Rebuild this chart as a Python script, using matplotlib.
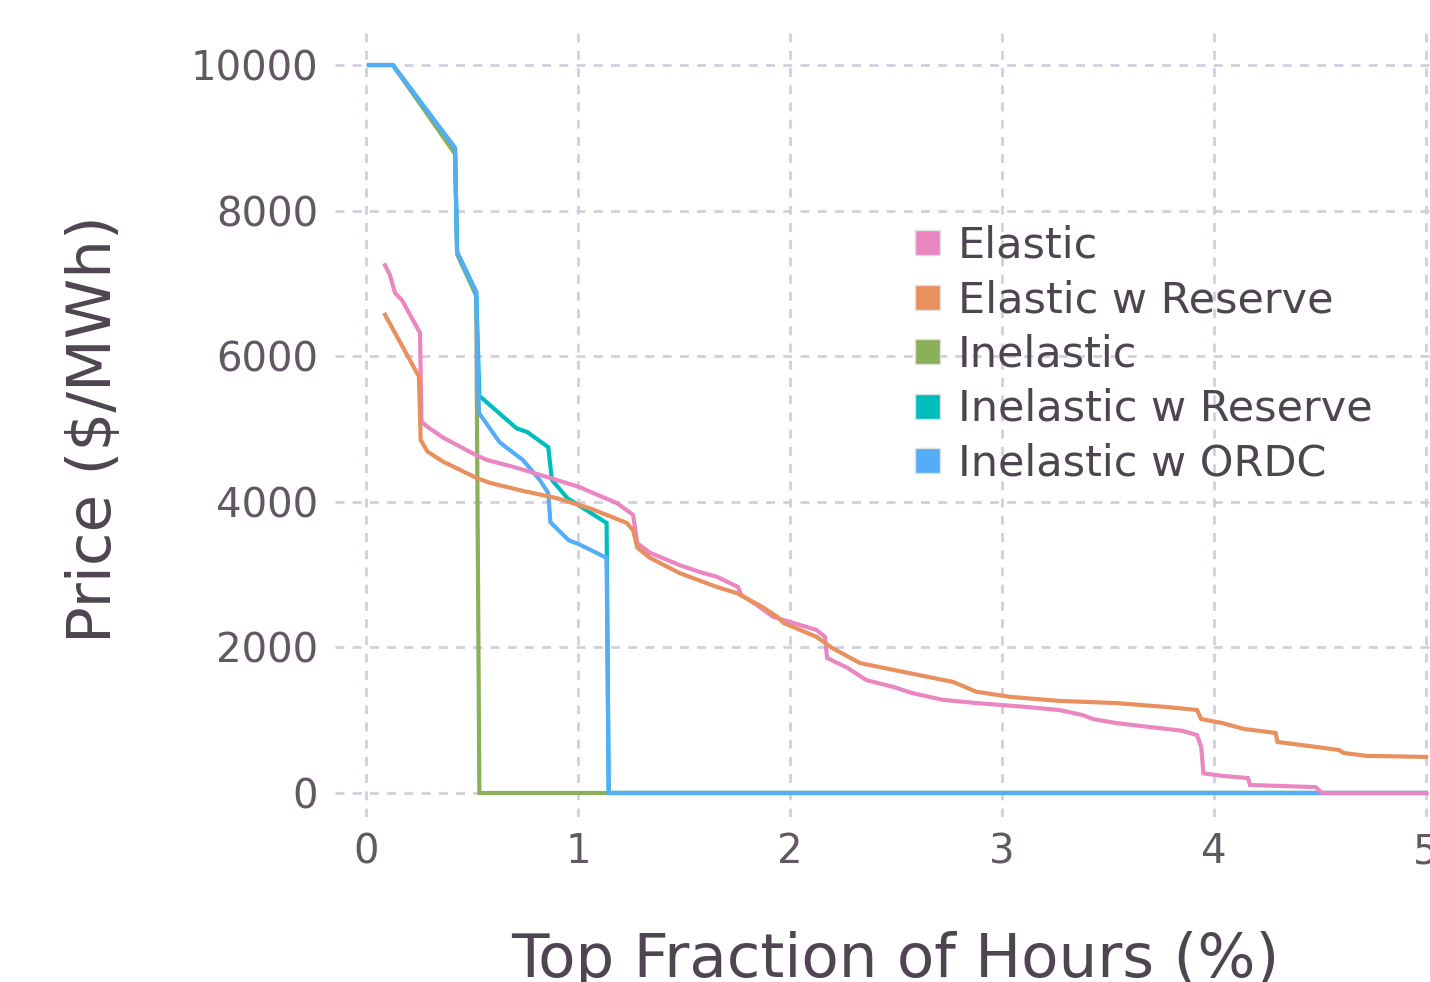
import matplotlib
matplotlib.use("Agg")
import matplotlib.pyplot as plt
from matplotlib.lines import Line2D

# ---------------------------------------------------------
# Price duration curves
# ---------------------------------------------------------
elastic_x = [0.09, 0.113, 0.137, 0.17, 0.255, 0.262, 0.29, 0.365, 0.52, 0.57, 0.695,
             0.855, 1.01, 1.04, 1.185, 1.26, 1.28, 1.34, 1.48, 1.575, 1.655, 1.755,
             1.77, 1.845, 1.92, 2.0, 2.125, 2.165, 2.175, 2.27, 2.36, 2.49, 2.58,
             2.72, 2.88, 3.12, 3.27, 3.38, 3.43, 3.54, 3.70, 3.85, 3.92, 3.94, 3.95,
             4.04, 4.16, 4.17, 4.48, 4.51, 5.0]
elastic_y = [7250, 7115, 6870, 6770, 6320, 5100, 5030, 4880, 4640, 4575, 4480,
             4340, 4200, 4160, 3980, 3820, 3430, 3300, 3130, 3035, 2970, 2830,
             2720, 2580, 2420, 2350, 2240, 2145, 1855, 1720, 1550, 1455, 1370,
             1280, 1235, 1180, 1140, 1070, 1015, 960, 905, 855, 795, 630, 270,
             235, 205, 110, 80, 0, 0]

elastic_res_x = [0.09, 0.25, 0.258, 0.29, 0.365, 0.52, 0.585, 0.74, 0.90, 1.057, 1.23,
                 1.26, 1.28, 1.34, 1.48, 1.655, 1.75, 1.87, 1.94, 1.97, 2.125, 2.2,
                 2.33, 2.49, 2.65, 2.77, 2.88, 3.04, 3.27, 3.54, 3.78, 3.92, 3.94,
                 4.04, 4.14, 4.29, 4.30, 4.41, 4.59, 4.61, 4.72, 5.0]
elastic_res_y = [6570, 5720, 4850, 4690, 4550, 4330, 4260, 4150, 4050, 3910, 3710,
                 3610, 3370, 3230, 3020, 2830, 2745, 2555, 2420, 2335, 2145, 1990,
                 1785, 1690, 1595, 1525, 1390, 1320, 1265, 1235, 1180, 1140, 1015,
                 960, 880, 825, 700, 660, 590, 550, 510, 495]

inelastic_x = [0.014, 0.127, 0.42, 0.43, 0.52, 0.535, 5.0]
inelastic_y = [10000, 10000, 8780, 7400, 6830, 0, 0]

inelastic_res_x = [0.014, 0.127, 0.42, 0.43, 0.52, 0.535, 0.547, 0.71, 0.76, 0.86,
                   0.877, 0.95, 1.135, 1.145, 5.0]
inelastic_res_y = [10000, 10000, 8860, 7430, 6880, 5450, 5425, 5010, 4960, 4750,
                   4300, 4050, 3710, 0, 0]

ordc_x = [0.014, 0.127, 0.42, 0.43, 0.52, 0.533, 0.63, 0.665, 0.74, 0.82, 0.86,
          0.87, 0.955, 1.01, 1.135, 1.145, 5.0]
ordc_y = [10000, 10000, 8860, 7430, 6880, 5220, 4820, 4740, 4575, 4300, 4120,
          3720, 3475, 3410, 3230, 0, 0]

labels = ["Elastic", "Elastic w Reserve", "Inelastic", "Inelastic w Reserve", "Inelastic w ORDC"]
colors = ["#ea87c2", "#e8905e", "#8bb05a", "#00bdbd", "#55adf8"]

x_ticks = [0, 1, 2, 3, 4, 5]
y_ticks = [0, 2000, 4000, 6000, 8000, 10000]

TEXT = "#4e4550"
TICK = "#625863"
GRID = "#cfcfdf"

plt.rcParams["font.family"] = ["DejaVu Sans"]

fig = plt.figure(figsize=(14.3, 9.82), dpi=100)
ax = fig.add_axes([335 / 1430, 1 - 817 / 982, 1101.6 / 1430, (817 - 33) / 982])

series = [(elastic_x, elastic_y), (elastic_res_x, elastic_res_y),
          (inelastic_x, inelastic_y), (inelastic_res_x, inelastic_res_y),
          (ordc_x, ordc_y)]
zorders = [6, 7, 3, 4, 5]
for (xs, ys), c, z in zip(series, colors, zorders):
    ax.plot(xs, ys, color=c, lw=3.0, zorder=z, solid_joinstyle="miter")

ax.set_xlim(-0.146, 5.05)
ax.set_ylim(-330, 10440)
ax.set_xticks(x_ticks)
ax.set_yticks(y_ticks)
ax.set_xticklabels([str(t) for t in x_ticks])
ax.set_yticklabels([str(t) for t in y_ticks])
ax.tick_params(length=0, labelsize=29, colors=TICK)
ax.tick_params(axis="y", pad=12)
ax.tick_params(axis="x", pad=11)
ax.grid(True, color=GRID, lw=2.0, linestyle=(0, (3.2, 3)))
for s in ax.spines.values():
    s.set_visible(False)

fig.text(95 / 1430, 1 - 429 / 982, "Price ($/MWh)", rotation=90, ha="center",
         va="center", fontsize=44, color=TEXT)
fig.text(895 / 1430, 1 - 977 / 982, "Top Fraction of Hours (%)", ha="center",
         va="baseline", fontsize=44, color=TEXT)

handles = [Line2D([], [], marker="s", linestyle="none", markersize=18,
                  markerfacecolor=c, markeredgecolor="#e0e0e0", markeredgewidth=1)
           for c in colors]
ax.legend(handles, labels, loc="upper left", bbox_to_anchor=(893 / 1430, 1 - 203 / 982),
          bbox_transform=fig.transFigure, frameon=False, fontsize=31,
          handlelength=0.6, handletextpad=0.4, labelspacing=0.29, borderpad=0,
          labelcolor=TEXT)

fig.savefig("out.png", dpi=100)
